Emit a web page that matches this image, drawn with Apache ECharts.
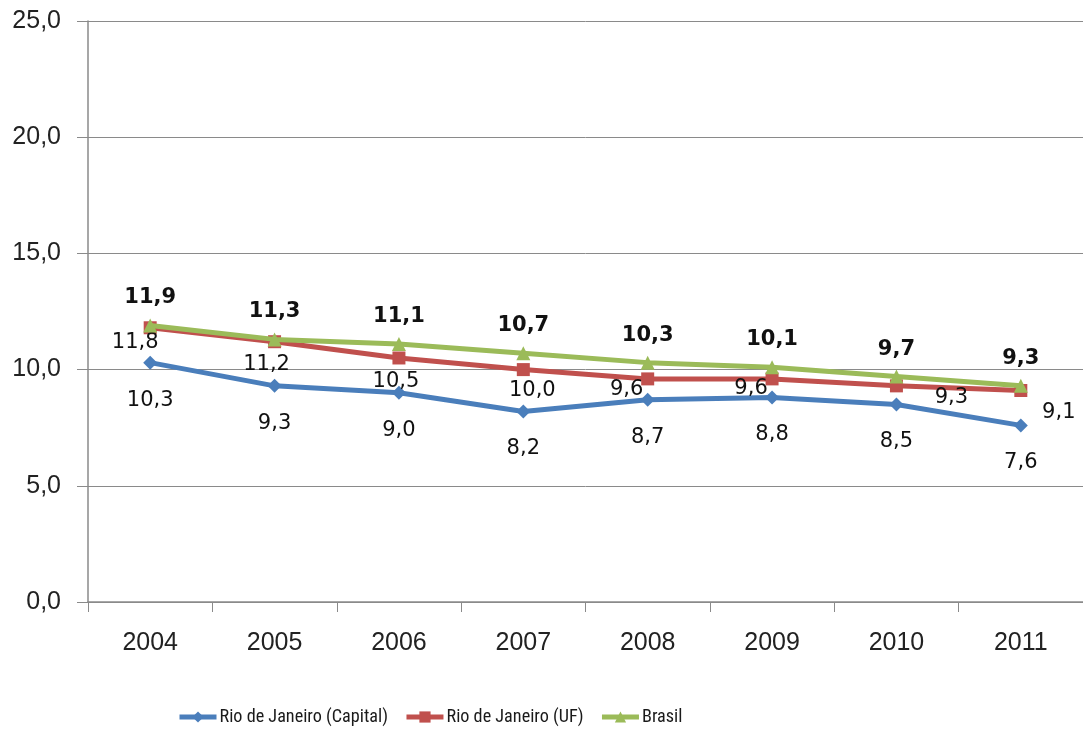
<!DOCTYPE html>
<html>
<head>
<meta charset="utf-8">
<script src="https://cdn.jsdelivr.net/npm/echarts@6/dist/echarts.min.js"></script>
<style>html,body{margin:0;padding:0;background:#fff}#c{width:1083px;height:730px}</style>
</head>
<body>
<div id="c"></div>
<script>
var years = ['2004','2005','2006','2007','2008','2009','2010','2011'];
var capital = [10.3, 9.3, 9.0, 8.2, 8.7, 8.8, 8.5, 7.6];
var uf = [11.8, 11.2, 10.5, 10.0, 9.6, 9.6, 9.3, 9.1];
var brasil = [11.9, 11.3, 11.1, 10.7, 10.3, 10.1, 9.7, 9.3];
var seriesNames = ['Rio de Janeiro (Capital)', 'Rio de Janeiro (UF)', 'Brasil'];
var yTicks = [0, 5, 10, 15, 20, 25];

// label offsets for UF series (style only)
var ufLabelOffsets = [[-15,15],[-8,23],[-3,24],[9,21],[-21,11],[-21,10],[55,12],[38,22]];

function fmt(v){ return v.toFixed(1).replace('.', ','); }

var axisFont = "'Liberation Sans', Arial, sans-serif";
var labelFont = {fontFamily:"'DejaVu Sans', sans-serif", fontSize:21, color:'#111'};

var chart = echarts.init(document.getElementById('c'), null, {renderer:'canvas'});
chart.setOption({
  animation:false,
  backgroundColor:'#fff',
  grid:{left:88, right:-5, top:21, bottom:128, containLabel:false},
  legend:{
    left:172, top:703, itemWidth:37, itemHeight:14, itemGap:16,
    lineStyle:{width:5},
    textStyle:{fontFamily:"'Roboto Condensed', sans-serif", fontSize:18.2, color:'#1a1a1a', padding:[0,0,0,-2]},
    data:seriesNames
  },
  xAxis:{
    type:'category', data:years, boundaryGap:true,
    axisLine:{lineStyle:{color:'#8a8a8a', width:1.5}},
    axisTick:{show:true, length:10, lineStyle:{color:'#8a8a8a'}},
    axisLabel:{fontFamily:axisFont, fontSize:25, color:'#222', margin:29}
  },
  yAxis:{
    type:'value', min:yTicks[0], max:yTicks[yTicks.length-1], interval:5,
    axisLine:{show:true, lineStyle:{color:'#8a8a8a', width:1.5}},
    axisTick:{show:true, length:11, lineStyle:{color:'#8a8a8a'}},
    splitLine:{lineStyle:{color:'#8a8a8a', width:1}},
    axisLabel:{fontFamily:axisFont, fontSize:25, color:'#222', margin:27,
      formatter:function(v){ return fmt(v); }}
  },
  series:[
    {
      name:seriesNames[0], type:'line', data:capital,
      symbol:'diamond', symbolSize:14,
      lineStyle:{color:'#4a7ebb', width:5}, itemStyle:{color:'#4a7ebb'},
      label:{show:true, position:'bottom', distance:20, formatter:function(p){return fmt(p.value);}, fontFamily:labelFont.fontFamily, fontSize:labelFont.fontSize, color:labelFont.color},
      z:3
    },
    {
      name:seriesNames[1], type:'line',
      data:uf.map(function(v,i){ return {value:v, label:{offset:ufLabelOffsets[i]}}; }),
      symbol:'rect', symbolSize:13,
      lineStyle:{color:'#c0504d', width:5}, itemStyle:{color:'#c0504d'},
      label:{show:true, position:'inside', formatter:function(p){return fmt(p.value);}, fontFamily:labelFont.fontFamily, fontSize:labelFont.fontSize, color:labelFont.color},
      z:4
    },
    {
      name:seriesNames[2], type:'line', data:brasil,
      symbol:'triangle', symbolSize:14,
      lineStyle:{color:'#9bbb59', width:5}, itemStyle:{color:'#9bbb59'},
      label:{show:true, position:'top', distance:10, formatter:function(p){return fmt(p.value);}, fontFamily:labelFont.fontFamily, fontWeight:'bold', fontSize:labelFont.fontSize, color:labelFont.color},
      z:5
    }
  ]
});
</script>
</body>
</html>
